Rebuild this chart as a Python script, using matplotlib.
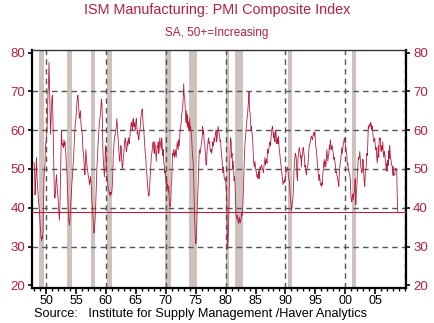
import numpy as np
import matplotlib
matplotlib.use('Agg')
import matplotlib.pyplot as plt

# monthly PMI, Jan 1948 .. Oct 2008
pmi_1940s = [
    51.7, 50.2, 43.3, 45.4, 49.5, 53.0, 48.1, 45.7, 44.0, 41.3, 40.7, 38.4,
    36.6, 34.3, 32.5, 31.4, 32.6, 32.0, 33.8, 41.2, 47.8, 50.4, 51.0, 56.5,
]
pmi_1950s = [
    56.5, 58.4, 60.0, 64.0, 69.5, 72.0, 77.5, 72.0, 65.0, 59.0, 62.0, 66.0,
    68.5, 69.0, 62.0, 55.0, 48.5, 43.0, 42.5, 44.0, 47.0, 48.5, 46.0, 44.0,
    43.0, 40.0, 38.5, 36.8, 41.0, 47.0, 53.0, 60.0, 57.0, 56.0, 56.5, 55.5,
    57.5, 56.0, 57.0, 55.0, 53.5, 50.0, 49.0, 45.0, 42.0, 38.0, 36.5, 35.5,
    37.0, 40.0, 42.0, 44.0, 46.5, 48.0, 50.5, 52.0, 55.0, 58.0, 60.5, 62.0,
    63.0, 65.0, 67.0, 68.5, 69.0, 67.0, 65.0, 63.0, 64.0, 65.0, 62.0, 60.0,
    60.0, 58.0, 55.0, 54.0, 52.5, 50.0, 48.5, 52.0, 55.0, 53.0, 51.0, 50.0,
    49.0, 48.0, 47.5, 46.0, 46.5, 48.0, 47.0, 45.0, 42.0, 40.0, 38.0, 36.0,
    33.5, 34.0, 36.0, 38.5, 42.0, 46.0, 50.0, 53.0, 55.5, 58.0, 60.0, 62.0,
    63.0, 64.0, 65.5, 68.0, 67.0, 63.0, 55.0, 52.0, 50.0, 48.0, 50.0, 55.0,
]
pmi_1960s = [
    56.0, 52.0, 49.0, 47.5, 46.0, 45.0, 44.5, 43.5, 44.0, 43.0, 44.0, 43.5,
    44.0, 46.0, 50.5, 54.0, 56.0, 57.5, 58.5, 59.0, 60.0, 61.0, 63.0, 61.0,
    59.0, 57.0, 55.0, 53.0, 52.0, 54.0, 56.0, 55.5, 52.0, 50.0, 51.0, 53.0,
    54.0, 56.0, 57.5, 58.0, 56.0, 54.5, 55.0, 57.0, 56.0, 58.0, 57.0, 56.5,
    58.0, 60.0, 61.0, 62.0, 61.5, 60.0, 62.5, 63.0, 61.0, 62.0, 61.0, 60.0,
    62.0, 63.0, 61.0, 59.0, 60.0, 58.0, 57.5, 59.0, 60.0, 61.0, 63.0, 64.0,
    65.0, 65.5, 63.0, 61.0, 60.0, 58.0, 56.0, 54.0, 53.0, 50.0, 49.0, 47.0,
    45.0, 44.0, 43.0, 43.5, 46.0, 49.0, 51.0, 53.0, 54.0, 55.0, 56.5, 57.0,
    55.0, 54.0, 57.0, 56.0, 55.0, 52.0, 54.0, 56.0, 55.5, 57.0, 54.0, 55.0,
    58.0, 57.0, 56.0, 55.0, 58.0, 56.0, 53.5, 55.0, 52.0, 51.0, 49.0, 49.5,
]
pmi_1970s = [
    48.0, 46.0, 47.5, 45.0, 46.0, 44.0, 45.5, 42.0, 40.5, 40.3, 41.0, 45.5,
    47.0, 51.0, 54.0, 53.5, 55.0, 54.0, 53.0, 55.0, 54.0, 53.0, 55.0, 57.0,
    56.0, 55.0, 57.5, 56.0, 58.0, 60.0, 61.0, 62.0, 64.0, 65.0, 66.0, 68.0,
    72.0, 69.0, 68.5, 66.0, 63.0, 62.0, 65.0, 61.0, 64.0, 60.5, 62.0, 60.0,
    63.0, 60.0, 61.0, 59.5, 58.0, 55.0, 53.0, 52.0, 48.0, 42.0, 37.0, 33.0,
    30.7, 31.0, 35.0, 39.0, 43.0, 46.0, 50.0, 54.0, 55.0, 54.0, 55.0, 56.0,
    57.0, 58.0, 61.0, 59.0, 60.0, 57.0, 56.5, 55.0, 53.0, 51.0, 52.0, 55.0,
    56.0, 57.5, 58.0, 56.5, 57.0, 55.0, 54.5, 55.0, 54.0, 55.0, 57.0, 56.0,
    56.5, 58.0, 57.0, 58.5, 59.0, 60.0, 57.0, 58.0, 59.5, 61.0, 60.0, 59.0,
    58.5, 57.0, 57.5, 55.0, 53.5, 52.0, 50.0, 49.0, 50.5, 48.0, 47.5, 47.0,
]
pmi_1980s = [
    47.5, 45.0, 43.5, 37.5, 29.4, 32.0, 35.0, 41.0, 50.0, 55.0, 58.0, 57.5,
    53.0, 54.0, 50.0, 52.0, 50.5, 47.0, 48.0, 46.0, 42.0, 38.0, 37.5, 37.0,
    38.0, 36.5, 36.0, 37.0, 37.5, 36.0, 36.5, 37.0, 38.5, 38.0, 39.0, 42.0,
    46.0, 50.0, 54.5, 57.0, 58.0, 60.0, 61.5, 63.0, 64.0, 66.0, 67.5, 69.9,
    65.0, 64.5, 62.0, 60.0, 61.0, 59.0, 58.5, 55.0, 52.0, 51.0, 50.5, 52.0,
    50.0, 49.5, 49.0, 48.0, 48.5, 47.5, 49.0, 49.5, 47.5, 50.5, 50.0, 50.5,
    51.0, 50.5, 50.0, 49.5, 49.0, 51.0, 51.5, 53.0, 51.0, 52.0, 52.5, 51.5,
    55.0, 54.0, 54.5, 55.5, 56.5, 57.0, 56.0, 58.0, 59.0, 60.5, 61.0, 60.0,
    58.0, 59.5, 58.0, 57.0, 60.0, 59.5, 57.0, 56.5, 58.0, 56.5, 58.5, 56.0,
    54.5, 53.5, 52.0, 51.0, 50.0, 48.5, 47.5, 46.0, 46.5, 47.0, 46.5, 47.5,
]
pmi_1990s = [
    47.5, 49.0, 49.5, 50.0, 50.5, 49.5, 48.0, 47.5, 46.5, 44.0, 42.0, 41.0,
    39.2, 40.0, 41.5, 42.5, 45.0, 49.0, 52.0, 53.0, 54.0, 53.5, 52.0, 48.0,
    47.0, 52.5, 54.0, 55.0, 55.5, 54.5, 53.0, 53.5, 50.5, 53.0, 53.5, 55.5,
    55.5, 54.0, 53.0, 50.5, 51.0, 49.0, 48.5, 50.0, 50.5, 51.0, 53.0, 55.0,
    56.0, 56.5, 57.0, 58.0, 58.5, 58.0, 57.5, 58.5, 59.0, 59.5, 58.5, 59.4,
    57.0, 55.5, 55.0, 53.0, 51.0, 50.0, 48.5, 47.0, 48.5, 47.5, 46.0, 46.0,
    45.5, 46.5, 46.0, 49.0, 50.0, 52.0, 50.5, 52.5, 51.5, 50.5, 53.0, 55.0,
    53.5, 52.0, 53.5, 54.0, 56.0, 55.0, 57.5, 56.5, 55.0, 55.5, 56.0, 54.5,
    54.0, 52.5, 53.0, 52.0, 51.0, 49.0, 49.5, 48.5, 48.0, 47.0, 46.5, 45.5,
    49.0, 50.5, 52.0, 52.5, 54.0, 55.5, 54.0, 55.5, 56.5, 57.0, 58.0, 57.5,
]
pmi_2000s = [
    56.0, 55.5, 54.5, 53.5, 51.0, 51.5, 50.0, 49.5, 49.0, 48.5, 47.0, 43.5,
    42.0, 41.5, 43.0, 43.5, 42.0, 43.5, 44.0, 46.5, 47.5, 40.8, 44.0, 45.0,
    48.5, 50.5, 53.0, 52.5, 53.0, 54.5, 52.5, 50.5, 50.0, 49.0, 49.5, 52.5,
    52.0, 48.5, 46.5, 45.5, 49.0, 49.5, 51.0, 54.0, 53.5, 56.5, 61.0, 60.5,
    61.5, 61.0, 61.0, 62.0, 61.5, 60.0, 61.0, 59.5, 58.0, 57.0, 57.5, 58.0,
    56.0, 55.0, 55.5, 53.0, 51.5, 53.5, 56.0, 53.0, 58.0, 57.5, 58.0, 55.0,
    54.5, 56.0, 55.0, 57.0, 54.5, 53.0, 54.5, 54.0, 52.5, 51.5, 49.5, 51.5,
    49.3, 52.3, 50.9, 54.7, 52.6, 56.0, 53.8, 52.9, 52.0, 50.9, 50.8, 48.4,
    50.7, 48.3, 48.6, 48.6, 49.6, 50.2, 50.0, 49.9, 43.5, 38.9,
]

# NBER recessions (decimal years)
recessions = [
    (1948.83, 1949.75), (1953.50, 1954.33), (1957.58, 1958.25),
    (1960.25, 1961.08), (1969.92, 1970.83), (1973.83, 1975.17),
    (1980.00, 1980.50), (1981.50, 1982.83), (1990.50, 1991.17),
    (2001.17, 2001.83),
]

latest = 38.9
title = 'ISM Manufacturing: PMI Composite Index'
subtitle = 'SA, 50+=Increasing'
source = 'Source:   Institute for Supply Management /Haver Analytics'

pmi = np.array(pmi_1940s + pmi_1950s + pmi_1960s + pmi_1970s
               + pmi_1980s + pmi_1990s + pmi_2000s)
t = 1948 + np.arange(len(pmi)) / 12.0

red = '#b3203f'
plt.rcParams['font.family'] = ['Liberation Sans', 'DejaVu Sans']

fig = plt.figure(figsize=(4.34, 3.23), dpi=100)
ax = fig.add_axes([0.0737, 0.1084, 0.862, 0.737])

for a, b in recessions:
    ax.axvspan(a, b, color='#cdc3bc', lw=0, zorder=1)

for y in [30, 40, 50, 60, 70]:
    ax.axhline(y, color='#555555', lw=1.0, ls=(0, (4, 3)), zorder=2)
for x in [1950, 1960, 1970, 1980, 1990, 2000, 2010]:
    ax.axvline(x, color='#555555', lw=1.0, ls=(0, (4, 3)), zorder=2)

ax.axhline(latest, color=red, lw=0.8, zorder=3)
ax.plot(t, pmi, color=red, lw=0.6, zorder=4)

ax.set_xlim(1947.66, 2010.15)
ax.set_ylim(19.3, 80.7)

ax.set_xticks(np.arange(1950, 2010, 5))
ax.set_xticklabels(['50', '55', '60', '65', '70', '75', '80', '85', '90',
                    '95', '00', '05'])
ax.set_xticks(np.arange(1948, 2011), minor=True)
ax.set_yticks([20, 30, 40, 50, 60, 70, 80])

ax.tick_params(axis='y', colors='black', labelcolor=red, labelsize=9.5,
               left=True, right=True, labelleft=True, labelright=True,
               direction='out', length=3, width=1.2, pad=2)
ax.tick_params(axis='x', which='major', labelsize=9, direction='out',
               length=4, width=1.2, pad=1)
ax.tick_params(axis='x', which='minor', direction='out', length=2.5, width=1)

for side in ['left', 'right', 'bottom']:
    ax.spines[side].set_linewidth(1.6)
ax.spines['top'].set_linewidth(1.0)
ax.spines['top'].set_color('#333333')

fig.text(0.5, 0.99, title, ha='center', va='top', color=red, fontsize=10.4)
fig.text(0.5, 0.915, subtitle, ha='center', va='top', color=red, fontsize=8.5)
fig.text(0.078, 0.008, source, ha='left', va='bottom', color='black',
         fontsize=9.2)

fig.savefig('out.png', dpi=100)
